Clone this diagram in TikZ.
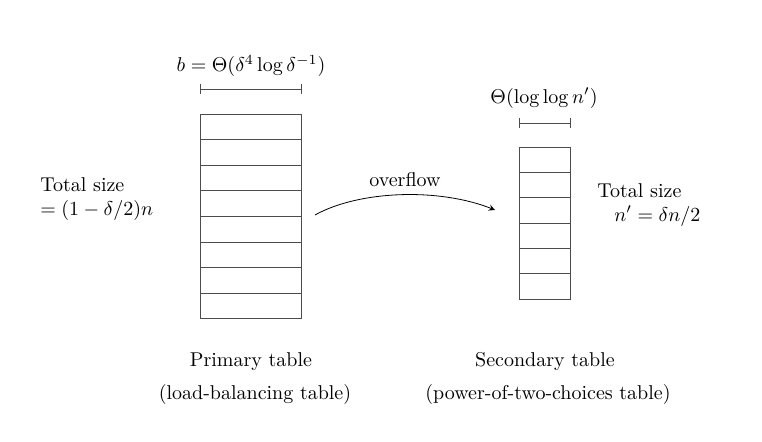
\documentclass[tikz,border=0pt]{standalone}
\begin{document}
\begin{tikzpicture}[x=0.5pt,y=-0.5pt,
  cell/.style={draw=black!70,line width=0.4pt},
  lbl/.style={font=\fontsize{10}{12}\selectfont,inner sep=0pt},
  dim/.style={draw=black!70,line width=0.4pt}]
\useasboundingbox[fill=white] (0,0) rectangle (762,442);
% primary table
\foreach \i in {0,...,7}{\draw[cell] (200,{114+\i*25.6}) rectangle (301,{114+(\i+1)*25.6});}
\coordinate (pl) at (200,89); \coordinate (pr) at (301,89);
\draw[dim] (pl) -- (pr);
\draw[dim] (200,84) -- (200,94); \draw[dim] (301,84) -- (301,94);
\node[lbl] (bl) at (251,66) {$b=\Theta(\delta^4\log\delta^{-1})$};
% secondary table
\foreach \i in {0,...,5}{\draw[cell] (519,{147+\i*25.33}) rectangle (570,{147+(\i+1)*25.33});}
\draw[dim] (519,123) -- (570,123);
\draw[dim] (519,118) -- (519,128); \draw[dim] (570,118) -- (570,128);
\node[lbl] (sl) at (544,98) {$\Theta(\log\log n')$};
% side labels
\node[lbl,anchor=west] (lt1) at (40,185) {Total size};
\node[lbl,anchor=west] (lt2) at (40,211) {$=(1-\delta/2)n$};
\node[lbl,anchor=west] (rt1) at (597,191) {Total size};
\node[lbl,anchor=west] (rt2) at (614,216) {$n'=\delta n/2$};
% arrow
\coordinate (a0) at (315,215);
\coordinate (a1) at (495,210);
\draw[-stealth,line width=0.4pt] (a0) .. controls (360,190) and (440,188) .. (a1);
\node[lbl] (ov) at (405,180) {overflow};
% captions
\node[lbl] (c1) at (251,362) {Primary table};
\node[lbl] (c2) at (255,395) {(load-balancing table)};
\node[lbl] (c3) at (545,362) {Secondary table};
\node[lbl] (c4) at (548,395) {(power-of-two-choices table)};
\end{tikzpicture}
\end{document}
